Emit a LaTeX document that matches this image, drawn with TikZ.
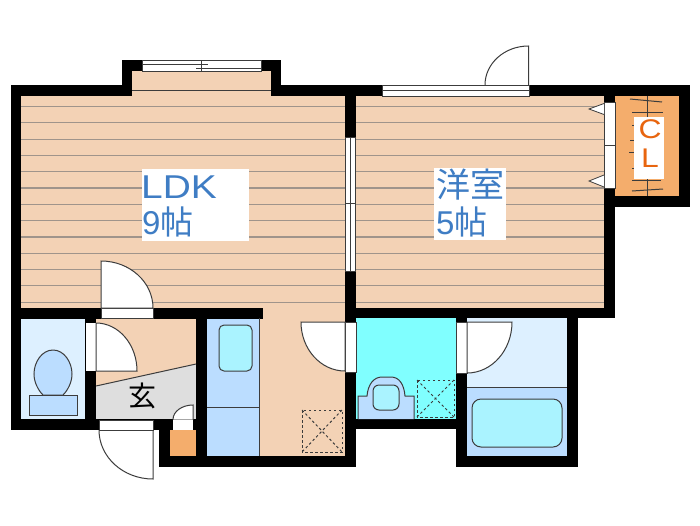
\documentclass[tikz,border=0pt]{standalone}
\usepackage{fontspec}
\usepackage{xcolor}
\setmainfont{Liberation Sans}
\newfontfamily\jpfont{Noto Sans CJK JP}
\newfontfamily\widefont[FakeStretch=1.18]{Liberation Sans}
\definecolor{floorpeach}{HTML}{F3D2B5}
\definecolor{closetorange}{HTML}{F4AD6C}
\definecolor{palewater}{HTML}{DDF0FF}
\definecolor{midwater}{HTML}{BBDDFF}
\definecolor{tubwater}{HTML}{AAF3FF}
\definecolor{washcyan}{HTML}{80FFFF}
\definecolor{entrygrey}{HTML}{DEDEDE}
\definecolor{labelblue}{HTML}{3F7DC4}
\definecolor{labelorange}{HTML}{E8650F}
\definecolor{linegrey}{HTML}{3C3C3C}
\definecolor{boardgrey}{HTML}{9F948B}

\tikzset{
	wall/.style={fill=black, draw=none},
	opening/.style={fill=white, draw=linegrey, line width=0.8pt},
	doorleaf/.style={fill=white, draw=linegrey, line width=1pt},
	fixture/.style={draw=linegrey, line width=1pt},
	hatch/.style={draw=linegrey, line width=1pt, dash pattern=on 2.5pt off 2.5pt},
	roomlabel/.style={text=labelblue, anchor=base west, inner sep=0pt, font=\fontsize{33}{37}\selectfont},
	closetlabel/.style={text=labelorange, inner sep=0pt, font=\widefont\fontsize{27}{27}\selectfont},
}

\begin{document}
\begin{tikzpicture}[x=1pt, y=-1pt]
	\useasboundingbox (0,0) rectangle (700,525);

	% room floors
	\fill[floorpeach] (21,96) rectangle (345,308);
	\fill[floorpeach] (132,71) rectangle (271,96);
	\fill[floorpeach] (356,96) rectangle (604,308);
	\fill[floorpeach] (259,308) rectangle (345,456);
	\fill[floorpeach] (96,319) rectangle (197,420);
	\fill[entrygrey] (96,386) -- (196,364) -- (196,419) -- (96,419) -- cycle;
	\fill[closetorange] (615,96) rectangle (679,196);
	\fill[closetorange] (170,430) rectangle (196,456);
	\fill[palewater] (21,319) rectangle (85,419);
	\fill[palewater] (467,318) rectangle (567,387);
	\fill[midwater] (467,387) rectangle (567,456);
	\fill[midwater] (207,318) rectangle (259,456);
	\fill[washcyan] (356,318) rectangle (456,419);

	% floor boards
	\foreach \boardy in {106.5,122.8,139.1,155.4,171.7,188,204.3,220.6,236.9,253.2,269.5,285.8,302.1}{
		\draw[boardgrey, line width=1.2pt] (21,\boardy) -- (345,\boardy);
		\draw[boardgrey, line width=1.2pt] (356,\boardy) -- (604,\boardy);
	}
	\draw[linegrey, line width=0.9pt] (132,90) -- (271,90);

	% walls
	\fill[wall] (11,85) rectangle (132,96);
	\fill[wall] (122,60) rectangle (132,96);
	\fill[wall] (122,60) rectangle (281,71);
	\fill[wall] (271,60) rectangle (281,96);
	\fill[wall] (271,85) rectangle (690,96);
	\fill[wall] (11,85) rectangle (21,430);
	\fill[wall] (345,96) rectangle (356,467);
	\fill[wall] (604,96) rectangle (615,318);
	\fill[wall] (679,85) rectangle (690,207);
	\fill[wall] (604,196) rectangle (690,207);
	\fill[wall] (11,308) rectangle (263,319);
	\fill[wall] (345,308) rectangle (615,318);
	\fill[wall] (85,308) rectangle (96,430);
	\fill[wall] (11,419) rectangle (207,430);
	\fill[wall] (196,308) rectangle (207,467);
	\fill[wall] (159,419) rectangle (170,467);
	\fill[wall] (159,456) rectangle (356,467);
	\fill[wall] (345,419) rectangle (467,429);
	\fill[wall] (456,318) rectangle (467,467);
	\fill[wall] (456,456) rectangle (578,467);
	\fill[wall] (567,308) rectangle (578,467);

	% windows
	\draw[opening] (142,60) rectangle (261,71);
	\draw[linegrey, line width=0.8pt] (142,64) -- (208,64);
	\draw[linegrey, line width=0.8pt] (196,68) -- (261,68);
	\draw[linegrey, line width=0.8pt] (201.5,60) -- (201.5,71);
	\draw[opening] (382,85) rectangle (529,96);
	\draw[linegrey, line width=0.8pt] (382,90) -- (529,90);
	\draw[opening] (345.5,137) rectangle (355.5,271);
	\draw[linegrey, line width=0.8pt] (350,137) -- (350,271);
	\draw[linegrey, line width=0.8pt] (345.5,203) -- (355.5,203);

	% doors
	\draw[doorleaf, fill=none] (528.5,85) -- (528.5,46) arc[start angle=-90, end angle=-180, x radius=43.5, y radius=39];
	\draw[opening] (101,308) rectangle (153,318);
	\draw[doorleaf] (101,308) -- (101,261) arc[start angle=-90, end angle=0, x radius=52, y radius=47] -- cycle;
	\fill[white] (85.5,323) rectangle (96,371);
	\draw[doorleaf] (96,371) -- (96,323) arc[start angle=-90, end angle=0, x radius=41, y radius=48] -- cycle;
	\draw[opening] (99,420) rectangle (153,430);
	\draw[doorleaf, fill=none] (153,430) -- (153,479) arc[start angle=90, end angle=180, x radius=54, y radius=49];
	\fill[white] (173,419.5) rectangle (193,430);
	\draw[doorleaf] (193,419.5) -- (193,405) arc[start angle=-90, end angle=-180, x radius=20, y radius=14.5];
	\draw[opening] (345.5,322) rectangle (356,372);
	\draw[doorleaf] (345,322) -- (301,322) arc[start angle=180, end angle=90, x radius=44, y radius=49] -- cycle;
	\draw[opening] (456,322) rectangle (467,373);
	\draw[doorleaf] (467,322) -- (512,322) arc[start angle=0, end angle=90, x radius=45, y radius=51] -- cycle;
	\draw[opening] (604,102) rectangle (615,145);
	\draw[opening] (604,145) rectangle (615,188);
	\draw[opening] (604,103.5) -- (589,109) -- (604,114.5);
	\draw[opening] (604,175) -- (589,181) -- (604,187);

	% entry line
	\draw[fixture] (96,386) -- (196,364);

	% toilet room
	\draw[fixture, fill=midwater] (53,350) .. controls (42,350) and (34,362) .. (34,374) .. controls (34,382) and (38,390) .. (43,395) -- (63,395) .. controls (68,390) and (72,382) .. (72,374) .. controls (72,362) and (64,350) .. (53,350) -- cycle;
	\draw[fixture, fill=midwater] (29,395) rectangle (77,415);

	% kitchen
	\draw[fixture] (207,407) -- (259,407);
	\draw[fixture] (259,318) -- (259,456);
	\draw[fixture, fill=tubwater, rounded corners=5pt] (219,325) rectangle (252,371);
	\draw[hatch] (302,410) rectangle (342,452);
	\draw[hatch] (302,410) -- (342,452);
	\draw[hatch] (342,410) -- (302,452);

	% washroom
	\draw[fixture, fill=midwater] (358,419) -- (358,396) -- (367,396) .. controls (368,384) and (374,377) .. (382,377) -- (391,377) .. controls (399,377) and (404,384) .. (405,396) -- (414,396) -- (414,419);
	\draw[fixture, fill=tubwater, rounded corners=6pt] (373,385) rectangle (399,410);
	\draw[hatch] (417,380) rectangle (454,417);
	\draw[hatch] (417,380) -- (454,417);
	\draw[hatch] (454,380) -- (417,417);

	% bath
	\draw[fixture] (467,387) -- (567,387);
	\draw[fixture, fill=tubwater, rounded corners=9pt] (472,399) rectangle (562,447);

	% closet rail
	\draw[fixture] (647,96) -- (647,196);
	\draw[fixture] (630,99) -- (662,102);
	\draw[fixture] (632,112) -- (663,112);
	\draw[fixture] (632,180) -- (661,180);
	\draw[fixture] (632,191) -- (663,189);
	\draw[fixture] (632,125) -- (634,125);
	\draw[fixture] (630,140) -- (634,140);
	\draw[fixture] (629,152) -- (634,152);
	\draw[fixture] (632,168) -- (634,168);

	% labels
	\fill[white] (142,169) rectangle (249,241);
	\fill[white] (434,168) rectangle (506,240);
	\fill[white] (634,117) rectangle (664,179);
	\node[roomlabel, font=\widefont\fontsize{33}{37}\selectfont] (ldk) at (141,198) {LDK};
	\node[roomlabel] (ldkmats) at (142,234) {9{\jpfont 帖}};
	\node[roomlabel] (western) at (436,197) {\jpfont\fontsize{34}{37}\selectfont 洋室};
	\node[roomlabel] (westernmats) at (436,234) {5{\jpfont 帖}};
	\node[closetlabel] (closetc) at (650,129) {C};
	\node[closetlabel] (closetl) at (650,158) {L};
	\node[inner sep=0pt, font=\jpfont\fontsize{28}{28}\selectfont] (entrance) at (142,396) {玄};
\end{tikzpicture}
\end{document}
